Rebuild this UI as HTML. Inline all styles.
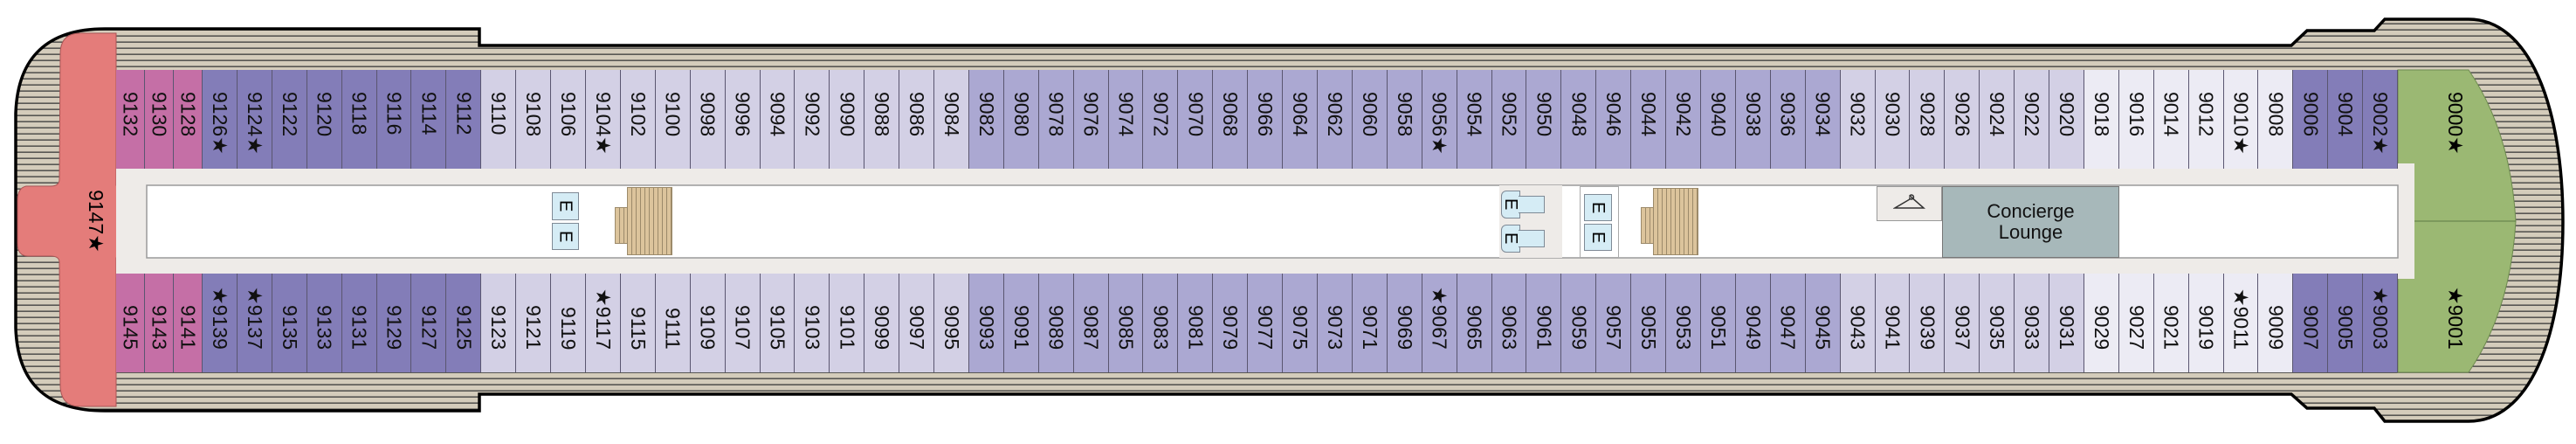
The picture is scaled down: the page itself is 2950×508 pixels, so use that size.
<!DOCTYPE html>
<html><head><meta charset="utf-8">
<style>
*{margin:0;padding:0;box-sizing:border-box}
body{width:2950px;height:508px;background:#fff;position:relative;overflow:hidden;font-family:"Liberation Sans","DejaVu Sans",sans-serif}
svg.base{position:absolute;left:0;top:0}
.row{position:absolute;left:133px;width:2613px;height:113px;display:flex}
.row div{flex:1 1 0;border-right:1px solid #5a5670;display:flex;flex-direction:column;align-items:center;font-size:23px;color:#111;overflow:hidden}
.row div span,.vt{writing-mode:vertical-rl;text-orientation:sideways;line-height:1;white-space:nowrap}
.top{top:80px}.top div{padding-top:25px;justify-content:flex-start}
.bot{top:313px}.bot div{padding-bottom:26px;justify-content:flex-end}
.row .p{flex:0 0 33px;background:#c56fa6}
.row .u{background:#837db8}
.row .m{background:#aba8d2}
.row .l{background:#d3d0e5}
.row .v{background:#ecebf4}
.abs{position:absolute}
.eb{background:#d5ecf5;border:1px solid #7f8a96;font-size:20px;display:flex;align-items:center;justify-content:center}
.eb span{writing-mode:vertical-rl;text-orientation:sideways;line-height:1}
.st{background:#dcc49c;border:1px solid #9c8a6a;background-image:repeating-linear-gradient(90deg,transparent 0 4px,#9c8a6a 4px 5px)}
</style></head><body>
<svg class="base" width="2950" height="508" viewBox="0 0 2950 508">
<defs>
<pattern id="pl" width="60" height="7" patternUnits="userSpaceOnUse">
<rect width="60" height="7" fill="#d4ccbb"/>
<rect y="5.5" width="60" height="1.3" fill="#3a3a3a"/>
</pattern>
</defs>
<path d="M549,33 L120,33 C55,33 20,65 18,130 L18,375 C20,440 55,470 120,470 L549,470 L549,451 L2624,451 L2642,467 L2719,467 L2731,482 L2827,482 C2895,482 2935,390 2935,254 C2935,118 2895,22 2827,22 L2731,22 L2719,35 L2642,35 L2624,52 L549,52 Z" fill="url(#pl)" stroke="#000" stroke-width="3.5"/>
<path d="M133,38 L92,38 Q69,38 69,62 L68,205 Q68,213 58,213 L30,213 Q20,215 20,230 L20,278 Q20,293 32,293 L58,293 Q68,293 68,300 L69,440 Q69,465 92,465 L133,465 L133,295 L150,295 L150,212 L133,212 Z" fill="#e47c7a" stroke="#a55" stroke-width="1"/>
<path d="M2746,80 L2827,80 Q2875,150 2881,253 Q2875,356 2827,426 L2746,426 Z" fill="#9bb873" stroke="#6e8a50" stroke-width="1"/>
<line x1="2765" y1="253" x2="2881" y2="253" stroke="#5e7a44" stroke-width="1"/>
<rect x="133" y="187" width="2632" height="132" fill="#eeebe8"/>
<rect x="168" y="212" width="2578" height="83" fill="#fff" stroke="#9a9a9a" stroke-width="1.5"/>
<text x="110" y="253" font-size="23" font-family="Liberation Sans, DejaVu Sans, sans-serif" transform="rotate(90 110 253)" text-anchor="middle" dominant-baseline="central">9147★</text>
</svg>

<div class="row top">
<div class="p"><span>9132</span></div><div class="p"><span>9130</span></div><div class="p"><span>9128</span></div>
<div class="u"><span>9126★</span></div><div class="u"><span>9124★</span></div><div class="u"><span>9122</span></div><div class="u"><span>9120</span></div><div class="u"><span>9118</span></div><div class="u"><span>9116</span></div><div class="u"><span>9114</span></div><div class="u"><span>9112</span></div>
<div class="l"><span>9110</span></div><div class="l"><span>9108</span></div><div class="l"><span>9106</span></div><div class="l"><span>9104★</span></div><div class="l"><span>9102</span></div><div class="l"><span>9100</span></div><div class="l"><span>9098</span></div><div class="l"><span>9096</span></div><div class="l"><span>9094</span></div><div class="l"><span>9092</span></div><div class="l"><span>9090</span></div><div class="l"><span>9088</span></div><div class="l"><span>9086</span></div><div class="l"><span>9084</span></div>
<div class="m"><span>9082</span></div><div class="m"><span>9080</span></div><div class="m"><span>9078</span></div><div class="m"><span>9076</span></div><div class="m"><span>9074</span></div><div class="m"><span>9072</span></div><div class="m"><span>9070</span></div><div class="m"><span>9068</span></div><div class="m"><span>9066</span></div><div class="m"><span>9064</span></div><div class="m"><span>9062</span></div><div class="m"><span>9060</span></div><div class="m"><span>9058</span></div><div class="m"><span>9056★</span></div><div class="m"><span>9054</span></div><div class="m"><span>9052</span></div><div class="m"><span>9050</span></div><div class="m"><span>9048</span></div><div class="m"><span>9046</span></div><div class="m"><span>9044</span></div><div class="m"><span>9042</span></div><div class="m"><span>9040</span></div><div class="m"><span>9038</span></div><div class="m"><span>9036</span></div><div class="m"><span>9034</span></div>
<div class="l"><span>9032</span></div><div class="l"><span>9030</span></div><div class="l"><span>9028</span></div><div class="l"><span>9026</span></div><div class="l"><span>9024</span></div><div class="l"><span>9022</span></div><div class="l"><span>9020</span></div>
<div class="v"><span>9018</span></div><div class="v"><span>9016</span></div><div class="v"><span>9014</span></div><div class="v"><span>9012</span></div><div class="v"><span>9010★</span></div><div class="v"><span>9008</span></div>
<div class="u"><span>9006</span></div><div class="u"><span>9004</span></div><div class="u"><span>9002★</span></div>
</div>

<div class="row bot">
<div class="p"><span>9145</span></div><div class="p"><span>9143</span></div><div class="p"><span>9141</span></div>
<div class="u"><span>★9139</span></div><div class="u"><span>★9137</span></div><div class="u"><span>9135</span></div><div class="u"><span>9133</span></div><div class="u"><span>9131</span></div><div class="u"><span>9129</span></div><div class="u"><span>9127</span></div><div class="u"><span>9125</span></div>
<div class="l"><span>9123</span></div><div class="l"><span>9121</span></div><div class="l"><span>9119</span></div><div class="l"><span>★9117</span></div><div class="l"><span>9115</span></div><div class="l"><span>9111</span></div><div class="l"><span>9109</span></div><div class="l"><span>9107</span></div><div class="l"><span>9105</span></div><div class="l"><span>9103</span></div><div class="l"><span>9101</span></div><div class="l"><span>9099</span></div><div class="l"><span>9097</span></div><div class="l"><span>9095</span></div>
<div class="m"><span>9093</span></div><div class="m"><span>9091</span></div><div class="m"><span>9089</span></div><div class="m"><span>9087</span></div><div class="m"><span>9085</span></div><div class="m"><span>9083</span></div><div class="m"><span>9081</span></div><div class="m"><span>9079</span></div><div class="m"><span>9077</span></div><div class="m"><span>9075</span></div><div class="m"><span>9073</span></div><div class="m"><span>9071</span></div><div class="m"><span>9069</span></div><div class="m"><span>★9067</span></div><div class="m"><span>9065</span></div><div class="m"><span>9063</span></div><div class="m"><span>9061</span></div><div class="m"><span>9059</span></div><div class="m"><span>9057</span></div><div class="m"><span>9055</span></div><div class="m"><span>9053</span></div><div class="m"><span>9051</span></div><div class="m"><span>9049</span></div><div class="m"><span>9047</span></div><div class="m"><span>9045</span></div>
<div class="l"><span>9043</span></div><div class="l"><span>9041</span></div><div class="l"><span>9039</span></div><div class="l"><span>9037</span></div><div class="l"><span>9035</span></div><div class="l"><span>9033</span></div><div class="l"><span>9031</span></div>
<div class="v"><span>9029</span></div><div class="v"><span>9027</span></div><div class="v"><span>9021</span></div><div class="v"><span>9019</span></div><div class="v"><span>★9011</span></div><div class="v"><span>9009</span></div>
<div class="u"><span>9007</span></div><div class="u"><span>9005</span></div><div class="u"><span>★9003</span></div>
</div>

<div class="abs vt" style="left:2800px;top:105px;font-size:23px">9000★</div>
<div class="abs vt" style="left:2800px;top:328px;font-size:23px">★9001</div>

<div class="abs eb" style="left:632px;top:220px;width:31px;height:32px"><span>E</span></div>
<div class="abs eb" style="left:632px;top:255px;width:31px;height:31px"><span>E</span></div>
<div class="abs st" style="left:704px;top:237px;width:17px;height:42px"></div>
<div class="abs st" style="left:718px;top:214px;width:52px;height:78px"></div>
<div class="abs" style="left:1717px;top:212px;width:72px;height:83px;background:#eeebe8"></div>
<div class="abs eb" style="left:1719px;top:218px;width:22px;height:32px;border-radius:6px 0 0 6px"><span>E</span></div>
<div class="abs" style="left:1739px;top:224px;width:30px;height:20px;background:#d5ecf5;border:1px solid #7f8a96;border-left:none"></div>
<div class="abs eb" style="left:1719px;top:257px;width:22px;height:32px;border-radius:6px 0 0 6px"><span>E</span></div>
<div class="abs" style="left:1739px;top:263px;width:30px;height:20px;background:#d5ecf5;border:1px solid #7f8a96;border-left:none"></div>
<div class="abs" style="left:1809px;top:213px;width:45px;height:82px;background:#fff;border:1px solid #aaa"></div>
<div class="abs eb" style="left:1814px;top:222px;width:32px;height:31px"><span>E</span></div>
<div class="abs eb" style="left:1814px;top:256px;width:32px;height:31px"><span>E</span></div>
<div class="abs st" style="left:1879px;top:237px;width:16px;height:42px"></div>
<div class="abs st" style="left:1893px;top:215px;width:52px;height:77px"></div>
<div class="abs" style="left:2149px;top:213px;width:75px;height:40px;background:#eeebe8;border:1px solid #999"></div>
<svg class="abs" style="left:2168px;top:221px" width="38" height="22"><path d="M19,3 a2.5,2.5 0 1 1 0,3 L19,7 L2,17 L35,17 Z" fill="none" stroke="#333" stroke-width="1.5"/></svg>
<div class="abs" style="left:2224px;top:213px;width:203px;height:82px;background:#a7b8ba;border:1px solid #777;display:flex;align-items:center;justify-content:center;text-align:center;font-size:22px;line-height:24px;color:#111">Concierge<br>Lounge</div>
</body></html>
